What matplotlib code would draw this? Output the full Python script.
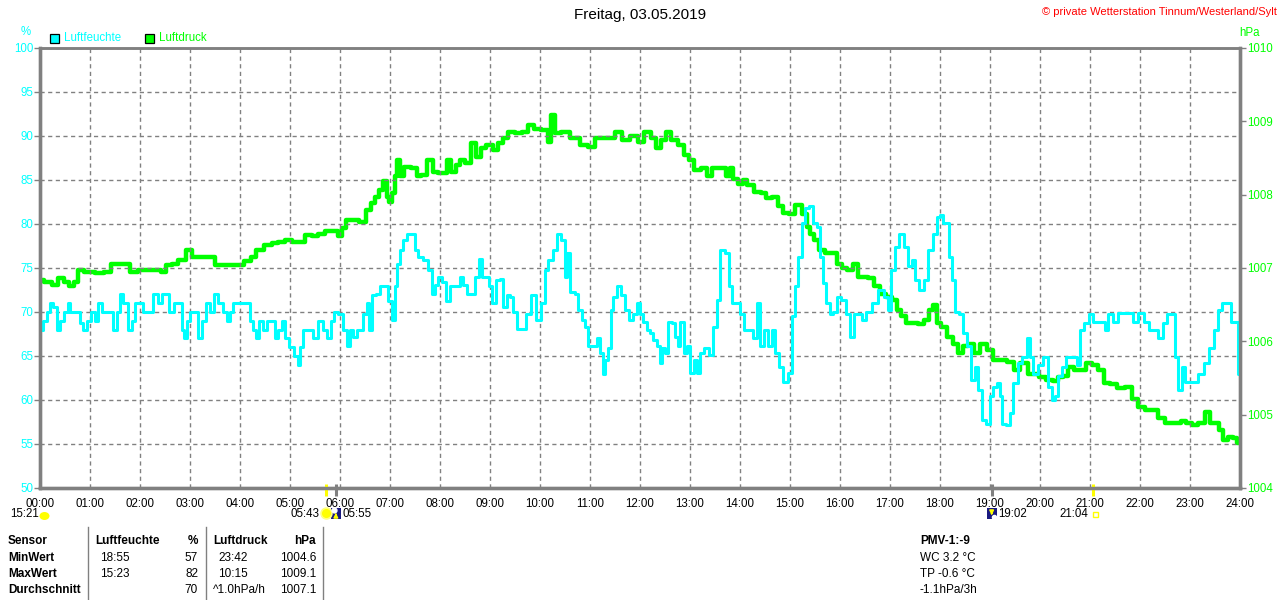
import matplotlib
matplotlib.use("Agg")
import matplotlib.pyplot as plt
from matplotlib.patches import Rectangle, Ellipse
from matplotlib.transforms import blended_transform_factory

plt.rcParams['font.family'] = ['Liberation Sans', 'DejaVu Sans']

# Luftfeuchte (%), time in hours
hum_t = [0.0, 0.1, 0.167, 0.233, 0.3, 0.367, 0.433, 0.533, 0.567, 0.633, 0.767, 0.833, 0.9, 0.967,
         1.067, 1.133, 1.2, 1.267, 1.433, 1.5, 1.567, 1.633, 1.7, 1.8, 1.867, 1.933, 2.033, 2.1,
         2.233, 2.3, 2.4, 2.467, 2.567, 2.6, 2.667, 2.7, 2.8, 2.867, 2.9, 2.967, 3.033, 3.133,
         3.2, 3.267, 3.367, 3.433, 3.533, 3.6, 3.7, 3.767, 3.833, 3.9, 4.0, 4.167, 4.233, 4.3,
         4.333, 4.433, 4.5, 4.567, 4.667, 4.733, 4.8, 4.867, 4.933, 5.033, 5.133, 5.18, 5.233,
         5.3, 5.433, 5.5, 5.6, 5.7, 5.767, 5.867,
         5.9, 6.033, 6.1, 6.167, 6.233, 6.3, 6.367, 6.433, 6.5, 6.567, 6.6, 6.667, 6.767, 6.833,
         6.933, 7.0, 7.067, 7.113, 7.167, 7.233, 7.3, 7.367, 7.467, 7.533, 7.6, 7.7, 7.8, 7.867,
         7.933, 8.0, 8.067, 8.167, 8.233, 8.367, 8.433, 8.5, 8.567, 8.667, 8.733, 8.813, 8.867,
         8.967, 9.0, 9.067, 9.167, 9.233, 9.3, 9.367, 9.433, 9.5, 9.567, 9.667, 9.767, 9.867,
         9.967, 10.067, 10.133, 10.2, 10.3, 10.38, 10.467, 10.513, 10.567, 10.647, 10.733, 10.8,
         10.867, 10.933, 11.0, 11.1, 11.167, 11.233, 11.267, 11.333, 11.4, 11.433, 11.5, 11.58,
         11.647, 11.733, 11.833,
         11.9, 11.967, 12.033, 12.1, 12.167, 12.233, 12.3, 12.367, 12.42, 12.467, 12.533, 12.6,
         12.667, 12.733, 12.767, 12.847, 12.9, 12.967, 13.047, 13.113, 13.167, 13.233, 13.333,
         13.433, 13.5, 13.567, 13.647, 13.753, 13.8, 13.867, 13.967, 14.033, 14.133, 14.233,
         14.287, 14.38, 14.433, 14.533, 14.6, 14.667, 14.733, 14.833, 14.9, 15.0, 15.067, 15.133,
         15.2, 15.267, 15.333, 15.433, 15.5, 15.567, 15.62, 15.687, 15.753, 15.833, 15.9, 15.98,
         16.067, 16.167, 16.247, 16.3, 16.4, 16.467, 16.567, 16.7, 16.833, 16.933, 16.98, 17.047,
         17.133, 17.233, 17.333, 17.4, 17.467, 17.533, 17.633, 17.733, 17.8,
         17.9, 17.967, 18.033, 18.1, 18.167, 18.2, 18.267, 18.333, 18.433, 18.5, 18.567, 18.667,
         18.733, 18.8, 18.867, 18.953, 19.033, 19.1, 19.167, 19.213, 19.267, 19.353, 19.433, 19.5,
         19.6, 19.7, 19.767, 19.833, 19.9, 20.0, 20.133, 20.2, 20.267, 20.333, 20.4, 20.467,
         20.567, 20.7, 20.767, 20.833, 20.933, 21.033, 21.1, 21.267, 21.333, 21.4, 21.5, 21.6,
         21.833, 21.9, 22.033, 22.133, 22.233, 22.333, 22.4, 22.5, 22.567, 22.667, 22.733, 22.8,
         22.867, 22.933, 23.1, 23.233, 23.333, 23.433, 23.533, 23.6, 23.667, 23.767, 23.867,
         23.953, 23.98]
hum_v = [68, 69, 70, 71, 70.6, 68, 69, 70, 71, 70, 70, 68.7, 68, 69,
         70, 69, 71, 70, 70, 68, 70, 72, 71, 68, 69, 71, 71, 70,
         70, 72, 71, 72, 72, 70, 70, 71, 71, 68, 67, 69, 70, 70,
         67, 69, 71, 70, 72, 71, 70, 69, 70, 71, 71, 71, 69, 68,
         67, 69, 68, 69, 69, 67, 68, 69, 67, 66, 65, 64, 66,
         68, 68, 67, 69, 68, 67, 69,
         70, 69.8, 68, 66.1, 68, 67.2, 68, 68, 69.8, 71, 68, 71.9, 72.1, 73,
         73, 71.2, 69.1, 72.9, 75.5, 77, 78.2, 78.9, 78.9, 77, 76.3, 75.9, 74.8, 72.1,
         73.1, 74, 73.4, 71.2, 73, 73, 74, 73.1, 72.1, 72.1, 74, 76, 74,
         74, 72.9, 71, 73.6, 73.8, 70.6, 71.9, 71.7, 70, 68.1, 68.1, 69.8, 71.9,
         69.1, 71, 74.8, 75.9, 77, 78.9, 78.2, 74, 76.7, 72.3, 72.1, 70.2,
         69.1, 68.3, 66.1, 66.1, 67, 65.3, 63, 64.5, 65.9, 70.2, 71.7, 72.9,
         71.9, 70.2, 69.1,
         69.8, 71, 69.8, 68.9, 68, 67.6, 66.8, 66.1, 64.2, 65.9, 65.3, 68.9,
         68.7, 67.2, 66.1, 68.9, 65.3, 66.1, 63.1, 64.5, 63.1, 65.3, 65.9,
         65.1, 68.3, 71.4, 77, 76.7, 72.9, 71, 71, 69.8, 68, 68,
         67, 71, 66.1, 68, 66.1, 68, 65.3, 63.8, 62.1, 63.1, 69.5, 72.9,
         76.3, 80.1, 81.8, 82, 80.1, 79.7, 76.3, 73.3, 71, 69.8, 70, 71.7,
         71.4, 69.8, 67.2, 69.8, 69.8, 69.1, 70, 71, 72.5, 71.7, 70.2, 74.8,
         77.4, 78.9, 77.4, 75.2, 75.9, 73.6, 72.5, 73.6, 77,
         78.9, 80.8, 81, 80.1, 80.1, 76.3, 73.6, 70, 69.8, 67.6, 66.1, 62.3,
         63.8, 61.1, 57.7, 57.3, 60.4, 61.5, 61.9, 60.4, 57.3, 57.2, 58.5, 61.9,
         64.2, 64.9, 67, 64.9, 63, 64, 64.9, 61.5, 60, 60.4, 62.7, 63.8,
         64.9, 64.9, 64, 68, 68.7, 69.8, 68.9, 68.9, 68, 69.8, 68.9, 69.9,
         69.9, 68.9, 69.9, 68.9, 68, 68, 67, 68.7, 69.8, 69.8, 64.9, 61.1,
         63.8, 62.1, 62.1, 63, 64.2, 65.9, 68, 70.2, 71, 71, 68.9,
         68.9, 63]

# Luftdruck (hPa)
prs_t = [0.0, 0.17, 0.30, 0.43, 0.53, 0.63, 0.73, 0.80, 0.97, 1.23, 1.33, 1.50, 1.77, 1.83,
         2.10, 2.37, 2.47, 2.57, 2.70, 2.83, 3.00, 3.07, 3.23, 3.43, 3.57, 3.77, 3.97, 4.17,
         4.27, 4.37, 4.57, 4.70, 4.83, 4.97, 5.10, 5.23, 5.37, 5.50, 5.63, 5.77,
         5.9, 6.0, 6.067, 6.167, 6.3, 6.467, 6.567, 6.667, 6.733, 6.833, 6.9, 6.967, 7.0, 7.067,
         7.113, 7.167, 7.233, 7.333, 7.5, 7.567, 7.667, 7.8, 7.9, 8.033, 8.133, 8.167, 8.267,
         8.367, 8.433, 8.567, 8.667, 8.767, 8.867, 8.967, 9.133, 9.2, 9.3, 9.433, 9.567, 9.7,
         9.833, 9.933, 10.1, 10.2, 10.247, 10.333, 10.5, 10.7, 10.9, 11.033, 11.167, 11.433,
         11.567, 11.7,
         11.9, 12.0, 12.167, 12.267, 12.367, 12.467, 12.58, 12.667, 12.833, 12.933, 13.033,
         13.133, 13.3, 13.367, 13.5, 13.667, 13.767, 13.833, 13.9, 14.033, 14.1, 14.2, 14.367,
         14.467, 14.567, 14.7, 14.8, 14.933, 15.033, 15.167, 15.3, 15.367, 15.433, 15.533,
         15.633, 15.767, 15.9, 15.98, 16.1, 16.2, 16.3, 16.4, 16.5, 16.633, 16.733, 16.867,
         16.967, 17.1, 17.167, 17.267, 17.367, 17.5, 17.633, 17.733, 17.82,
         17.9, 17.967, 18.067, 18.2, 18.3, 18.4, 18.5, 18.633, 18.733, 18.867, 19.0, 19.1,
         19.233, 19.433, 19.533, 19.667, 19.833, 19.933, 20.033, 20.2, 20.3, 20.4, 20.5,
         20.633, 20.733, 20.867, 20.967, 21.1, 21.233, 21.333, 21.467, 21.633, 21.767, 21.9,
         22.033, 22.167, 22.3, 22.433, 22.567, 22.767, 22.867, 22.967, 23.1, 23.233, 23.367,
         23.433, 23.533, 23.633, 23.7, 23.8, 23.9, 23.98]
prs_v = [1006.84, 1006.81, 1006.77, 1006.86, 1006.81, 1006.75, 1006.81, 1006.97, 1006.95,
         1006.93, 1006.95, 1007.06, 1007.05, 1006.95, 1006.97, 1006.97, 1006.95, 1007.04,
         1007.06, 1007.11, 1007.25, 1007.15, 1007.15, 1007.15, 1007.04, 1007.04, 1007.04,
         1007.09, 1007.15, 1007.25, 1007.31, 1007.34, 1007.36, 1007.38, 1007.36, 1007.36,
         1007.45, 1007.43, 1007.47, 1007.50,
         1007.50, 1007.43, 1007.54, 1007.65, 1007.65, 1007.63, 1007.79, 1007.88, 1007.97,
         1008.06, 1008.18, 1007.97, 1007.90, 1008.02, 1008.25, 1008.47, 1008.25, 1008.38,
         1008.36, 1008.25, 1008.27, 1008.47, 1008.31, 1008.29, 1008.29, 1008.47, 1008.31,
         1008.40, 1008.47, 1008.43, 1008.70, 1008.52, 1008.63, 1008.68, 1008.61, 1008.70,
         1008.77, 1008.86, 1008.84, 1008.86, 1008.95, 1008.90, 1008.88, 1008.72, 1009.09,
         1008.84, 1008.86, 1008.77, 1008.68, 1008.65, 1008.77, 1008.77, 1008.86, 1008.75,
         1008.80, 1008.72, 1008.86, 1008.77, 1008.63, 1008.75, 1008.86, 1008.75, 1008.68,
         1008.54, 1008.47, 1008.34, 1008.36, 1008.25, 1008.36, 1008.36, 1008.25, 1008.36,
         1008.22, 1008.15, 1008.20, 1008.13, 1008.04, 1008.02, 1007.95, 1007.97, 1007.84,
         1007.75, 1007.73, 1007.86, 1007.73, 1007.56, 1007.47, 1007.38, 1007.25, 1007.20,
         1007.20, 1007.06, 1007.00, 1006.97, 1007.06, 1006.88, 1006.88, 1006.86, 1006.75,
         1006.65, 1006.61, 1006.56, 1006.43, 1006.34, 1006.25, 1006.25, 1006.24, 1006.29,
         1006.43,
         1006.50, 1006.25, 1006.20, 1006.06, 1005.97, 1005.84, 1005.93, 1005.97, 1005.84,
         1005.97, 1005.88, 1005.75, 1005.75, 1005.72, 1005.61, 1005.70, 1005.56, 1005.56,
         1005.52, 1005.47, 1005.46, 1005.52, 1005.53, 1005.65, 1005.61, 1005.61, 1005.70,
         1005.68, 1005.61, 1005.43, 1005.42, 1005.36, 1005.38, 1005.22, 1005.11, 1005.06,
         1005.06, 1004.95, 1004.88, 1004.88, 1004.92, 1004.88, 1004.86, 1004.88, 1005.04,
         1004.88, 1004.88, 1004.79, 1004.65, 1004.70, 1004.68, 1004.61]

hour_labels = ['%02d:00' % h for h in range(25)]
hum_ticks = list(range(50, 101, 5))
prs_ticks = list(range(1004, 1011))

# sun / moon events (label, hour)
events = [('05:43', 5.717), ('05:55', 5.917), ('19:02', 19.033), ('21:04', 21.067)]

table_rows = [
    ['Sensor', 'Luftfeuchte', '%', 'Luftdruck', 'hPa'],
    ['MinWert', '18:55', '57', '23:42', '1004.6'],
    ['MaxWert', '15:23', '82', '10:15', '1009.1'],
    ['Durchschnitt', '', '70', '^1.0hPa/h', '1007.1'],
]
extra_lines = ['PMV-1:-9', 'WC 3.2 °C', 'TP -0.6 °C', '-1.1hPa/3h']

CYAN = '#00ffff'
GREEN = '#00ff00'
GRAY = '#808080'
FS = 8.3

W, H = 1280, 600
fig = plt.figure(figsize=(W / 100, H / 100), dpi=100)


def fx(x):
    return x / W


def fy(y):
    return 1 - y / H


ax = fig.add_axes([fx(40), fy(488), 1200 / W, 440 / H])
ax2 = ax.twinx()
ax.set_zorder(ax2.get_zorder() + 1)
ax.patch.set_visible(False)

ax2.plot(prs_t, prs_v, color=GREEN, lw=3.2, drawstyle='steps-mid')
ax.plot(hum_t, hum_v, color=CYAN, lw=2.2, drawstyle='steps-mid')

ax.set_xlim(0, 24)
ax.set_ylim(50, 100)
ax2.set_ylim(1004, 1010)
ax.set_xticks(range(25))
ax.set_xticklabels(hour_labels, fontsize=FS)
ax.set_yticks(hum_ticks)
ax.set_yticklabels([str(v) for v in hum_ticks], color=CYAN, fontsize=FS)
ax2.set_yticks(prs_ticks)
ax2.set_yticklabels([str(v) for v in prs_ticks], color=GREEN, fontsize=FS)
ax.tick_params(axis='x', length=0, pad=7)
ax.tick_params(axis='y', length=4, width=1, color=GRAY, pad=1)
ax2.tick_params(axis='y', length=4, width=1, color=GRAY, pad=1)
ax.grid(True, color=GRAY, ls=(0, (3, 2.5)), lw=1.0)

for a in (ax, ax2):
    for side in ('left', 'bottom', 'right'):
        a.spines[side].set_color(GRAY)
        a.spines[side].set_linewidth(2.4)
    a.spines['top'].set_color(GRAY)
    a.spines['top'].set_linewidth(1.8)

# titles and legend
fig.text(0.5, fy(15), 'Freitag, 03.05.2019', ha='center', va='center', fontsize=11)
fig.text(fx(1277), fy(12), '© private Wetterstation Tinnum/Westerland/Sylt', ha='right', va='center',
         fontsize=8, color='red')
fig.text(fx(26), fy(32), '%', ha='center', va='center', fontsize=FS, color=CYAN)
fig.text(fx(1250), fy(33), 'hPa', ha='center', va='center', fontsize=FS, color=GREEN)
for x0, col, lab in [(50, CYAN, 'Luftfeuchte'), (145, GREEN, 'Luftdruck')]:
    fig.patches.append(Rectangle((fx(x0), fy(43)), 9 / W, 9 / H, transform=fig.transFigure,
                                 facecolor=col, edgecolor='black', lw=0.9))
    fig.text(fx(x0 + 14), fy(38), lab, ha='left', va='center', fontsize=FS, color=col)

# event markers below the time axis
tr = blended_transform_factory(ax.transData, fig.transFigure)
ev_y = fy(514)
for lab, t in events:
    bar_col = 'yellow' if lab in ('05:43', '21:04') else GRAY
    ax.plot([t, t], [fy(484), fy(496)], transform=tr, color=bar_col, lw=2.2, clip_on=False,
            solid_capstyle='butt')
# sun (dawn)
ax.plot([events[0][1]], [fy(513)], transform=tr, marker='o', ms=8, color='#ffff80',
        clip_on=False)
ax.plot([events[0][1]], [fy(513)], transform=tr, marker='o', ms=5.5, color='yellow',
        clip_on=False)
# sunrise / sunset icons
for (lab, t), up in zip(events[1:3], (True, False)):
    ax.add_patch(Rectangle((t - 0.1, fy(519)), 0.2, 11 / H, transform=tr, facecolor='#1a1a80',
                           edgecolor='none', clip_on=False))
    y_from, y_to = (fy(518), fy(510)) if up else (fy(510), fy(518))
    ax.annotate('', xy=(t, y_to), xytext=(t, y_from), xycoords=tr, textcoords=tr,
                arrowprops=dict(arrowstyle='-|>', color='yellow', lw=1.2, mutation_scale=6))
ax.plot([events[1][1] - 0.03], [fy(510)], transform=tr, marker='o', ms=3.5, color='white',
        clip_on=False)
ax.plot([events[2][1] + 0.04], [fy(517)], transform=tr, marker='o', ms=3, color='white',
        clip_on=False)
ax.add_patch(Rectangle((events[3][1], fy(517)), 0.1, 5 / H, transform=tr, facecolor='none',
                       edgecolor='yellow', lw=1, clip_on=False))
ax.annotate('05:43', xy=(events[0][1], ev_y), xycoords=tr, xytext=(-4.5, 0),
            textcoords='offset points', ha='right', va='center', fontsize=FS)
ax.annotate('05:55', xy=(events[1][1], ev_y), xycoords=tr, xytext=(5, 0),
            textcoords='offset points', ha='left', va='center', fontsize=FS)
ax.annotate('19:02', xy=(events[2][1], ev_y), xycoords=tr, xytext=(5, 0),
            textcoords='offset points', ha='left', va='center', fontsize=FS)
ax.annotate('21:04', xy=(events[3][1], ev_y), xycoords=tr, xytext=(-3.5, 0),
            textcoords='offset points', ha='right', va='center', fontsize=FS)
fig.text(fx(10), ev_y, '15:21', ha='left', va='center', fontsize=FS)
fig.patches.append(Ellipse((fx(44.5), fy(516)), 10 / W, 8 / H, transform=fig.transFigure,
                           facecolor='yellow', edgecolor='none'))

# statistics table
col_x = [(8, 'left'), (100, 'left'), (198, 'right'), (213, 'left'), (316, 'right')]
row_y = [541, 558, 574, 590]
for r, row in enumerate(table_rows):
    for c, cell in enumerate(row):
        x, ha = col_x[c]
        if r > 0 and c == 3 and cell[0].isdigit():
            x = 218
        if r == 0 and c == 1:
            x = 95
        bold = (r == 0 or c == 0)
        fig.text(fx(x), fy(row_y[r]), cell, ha=ha, va='center', fontsize=8.5,
                 fontweight='bold' if bold else 'normal')
for xl in (88, 206, 323):
    fig.add_artist(plt.Line2D([fx(xl), fx(xl)], [fy(527), fy(600)], color=GRAY, lw=1))
for i, line in enumerate(extra_lines):
    fig.text(fx(920), fy(row_y[i]), line, ha='left', va='center', fontsize=8.5,
             fontweight='bold' if i == 0 else 'normal')

fig.savefig('out.png', dpi=100)
